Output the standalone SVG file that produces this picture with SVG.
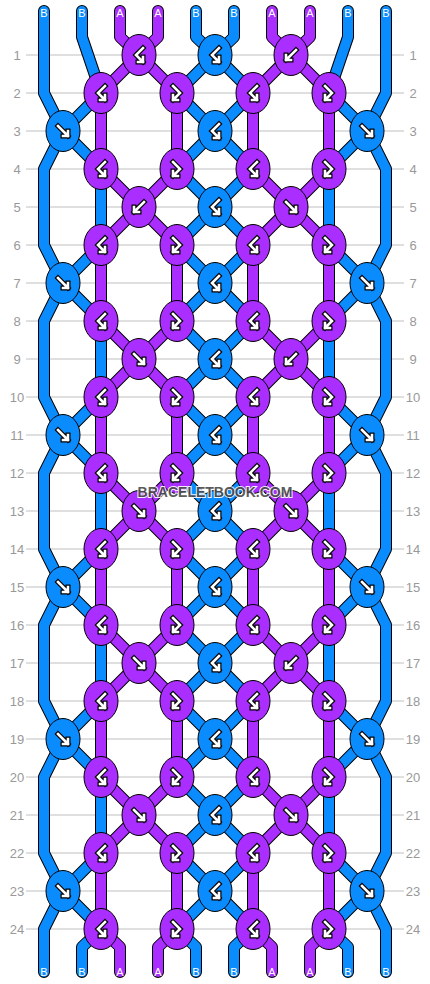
<svg xmlns="http://www.w3.org/2000/svg" xmlns:xlink="http://www.w3.org/1999/xlink" width="430" height="984" viewBox="0 0 430 984">
<style>
.grid line{stroke:#c0c0c0;stroke-width:1}
.rl{font-family:"Liberation Sans",Arial,sans-serif;font-size:13px;fill:#999;text-anchor:middle}
.so{fill:none;stroke:#000;stroke-width:12;stroke-linecap:round;stroke-linejoin:round}
.sb{fill:none;stroke:#0a8cff;stroke-width:10;stroke-linecap:round;stroke-linejoin:round}
.sa{fill:none;stroke:#a92eff;stroke-width:10;stroke-linecap:round;stroke-linejoin:round}
.kb{fill:#0a8cff;stroke:#000;stroke-width:1}
.ka{fill:#a92eff;stroke:#000;stroke-width:1}
.ao{fill:none;stroke:#000;stroke-width:5;stroke-linecap:square;stroke-linejoin:miter}
.ai{fill:none;stroke:#fff;stroke-width:2.6;stroke-linecap:square;stroke-linejoin:miter}
.sl{font-family:"Liberation Sans",Arial,sans-serif;font-size:11px;fill:#fff;text-anchor:middle}
.wm{font-family:"Liberation Sans",Arial,sans-serif;font-weight:bold;font-size:14px;fill:#4a4a4a;stroke:#fff;stroke-width:2;paint-order:stroke;text-anchor:middle;opacity:0.9}
</style>
<defs>
<g id="f"><path class="ao" d="M-5,-5L5,5M0,5H5V0"/><path class="ai" d="M-5,-5L5,5M0,5H5V0"/></g>
<g id="b"><path class="ao" d="M5,-5L-5,5M0,5H-5V0"/><path class="ai" d="M5,-5L-5,5M0,5H-5V0"/></g>
<g id="bf"><path class="ao" d="M4,-7L-3,0L4,7M-1,7H4V2"/><path class="ai" d="M4,-7L-3,0L4,7M-1,7H4V2"/></g>
<g id="fb"><path class="ao" d="M-4,-7L3,0L-4,7M1,7H-4V2"/><path class="ai" d="M-4,-7L3,0L-4,7M1,7H-4V2"/></g>
<ellipse id="ek" cx="0" cy="0" rx="17" ry="20.5"/>
</defs>
<rect width="430" height="984" fill="#fff"/>
<g class="grid">
<line x1="26" y1="55" x2="404" y2="55"/><line x1="26" y1="93" x2="404" y2="93"/><line x1="26" y1="131" x2="404" y2="131"/><line x1="26" y1="169" x2="404" y2="169"/><line x1="26" y1="207" x2="404" y2="207"/><line x1="26" y1="245" x2="404" y2="245"/><line x1="26" y1="283" x2="404" y2="283"/><line x1="26" y1="321" x2="404" y2="321"/><line x1="26" y1="359" x2="404" y2="359"/><line x1="26" y1="397" x2="404" y2="397"/><line x1="26" y1="435" x2="404" y2="435"/><line x1="26" y1="473" x2="404" y2="473"/><line x1="26" y1="511" x2="404" y2="511"/><line x1="26" y1="549" x2="404" y2="549"/><line x1="26" y1="587" x2="404" y2="587"/><line x1="26" y1="625" x2="404" y2="625"/><line x1="26" y1="663" x2="404" y2="663"/><line x1="26" y1="701" x2="404" y2="701"/><line x1="26" y1="739" x2="404" y2="739"/><line x1="26" y1="777" x2="404" y2="777"/><line x1="26" y1="815" x2="404" y2="815"/><line x1="26" y1="853" x2="404" y2="853"/><line x1="26" y1="891" x2="404" y2="891"/><line x1="26" y1="929" x2="404" y2="929"/>
</g>
<g id="row-labels">
<text class="rl" x="17" y="60">1</text><text class="rl" x="413" y="60">1</text>
<text class="rl" x="17" y="98">2</text><text class="rl" x="413" y="98">2</text>
<text class="rl" x="17" y="136">3</text><text class="rl" x="413" y="136">3</text>
<text class="rl" x="17" y="174">4</text><text class="rl" x="413" y="174">4</text>
<text class="rl" x="17" y="212">5</text><text class="rl" x="413" y="212">5</text>
<text class="rl" x="17" y="250">6</text><text class="rl" x="413" y="250">6</text>
<text class="rl" x="17" y="288">7</text><text class="rl" x="413" y="288">7</text>
<text class="rl" x="17" y="326">8</text><text class="rl" x="413" y="326">8</text>
<text class="rl" x="17" y="364">9</text><text class="rl" x="413" y="364">9</text>
<text class="rl" x="17" y="402">10</text><text class="rl" x="413" y="402">10</text>
<text class="rl" x="17" y="440">11</text><text class="rl" x="413" y="440">11</text>
<text class="rl" x="17" y="478">12</text><text class="rl" x="413" y="478">12</text>
<text class="rl" x="17" y="516">13</text><text class="rl" x="413" y="516">13</text>
<text class="rl" x="17" y="554">14</text><text class="rl" x="413" y="554">14</text>
<text class="rl" x="17" y="592">15</text><text class="rl" x="413" y="592">15</text>
<text class="rl" x="17" y="630">16</text><text class="rl" x="413" y="630">16</text>
<text class="rl" x="17" y="668">17</text><text class="rl" x="413" y="668">17</text>
<text class="rl" x="17" y="706">18</text><text class="rl" x="413" y="706">18</text>
<text class="rl" x="17" y="744">19</text><text class="rl" x="413" y="744">19</text>
<text class="rl" x="17" y="782">20</text><text class="rl" x="413" y="782">20</text>
<text class="rl" x="17" y="820">21</text><text class="rl" x="413" y="820">21</text>
<text class="rl" x="17" y="858">22</text><text class="rl" x="413" y="858">22</text>
<text class="rl" x="17" y="896">23</text><text class="rl" x="413" y="896">23</text>
<text class="rl" x="17" y="934">24</text><text class="rl" x="413" y="934">24</text>
</g>
<g id="connectors">
<polyline class="so" points="44,11 44,37 44,93 63,131 44,169 44,245 63,283 44,321 44,397 63,435 44,473 44,549 63,587 44,625 44,701 63,739 44,777 44,853 63,891 44,929 44,972"/>
<polyline class="sb" points="44,11 44,37 44,93 63,131 44,169 44,245 63,283 44,321 44,397 63,435 44,473 44,549 63,587 44,625 44,701 63,739 44,777 44,853 63,891 44,929 44,972"/>
<polyline class="so" points="386,11 386,37 386,93 367,131 386,169 386,245 367,283 386,321 386,397 367,435 386,473 386,549 367,587 386,625 386,701 367,739 386,777 386,853 367,891 386,929 386,972"/>
<polyline class="sb" points="386,11 386,37 386,93 367,131 386,169 386,245 367,283 386,321 386,397 367,435 386,473 386,549 367,587 386,625 386,701 367,739 386,777 386,853 367,891 386,929 386,972"/>
<polyline class="so" points="82,11 82,37 101,93 63,131 101,169 101,245 63,283 101,321 101,397 63,435 101,473 101,549 63,587 101,625 101,701 63,739 101,777 101,853 63,891 101,929 82,947 82,972"/>
<polyline class="sb" points="82,11 82,37 101,93 63,131 101,169 101,245 63,283 101,321 101,397 63,435 101,473 101,549 63,587 101,625 101,701 63,739 101,777 101,853 63,891 101,929 82,947 82,972"/>
<polyline class="so" points="348,11 348,37 329,93 367,131 329,169 329,245 367,283 329,321 329,397 367,435 329,473 329,549 367,587 329,625 329,701 367,739 329,777 329,853 367,891 329,929 348,947 348,972"/>
<polyline class="sb" points="348,11 348,37 329,93 367,131 329,169 329,245 367,283 329,321 329,397 367,435 329,473 329,549 367,587 329,625 329,701 367,739 329,777 329,853 367,891 329,929 348,947 348,972"/>
<polyline class="so" points="120,11 120,37 139,55 101,93 101,169 139,207 101,245 101,321 139,359 101,397 101,473 139,511 101,549 101,625 139,663 101,701 101,777 139,815 101,853 101,929 120,947 120,972"/>
<polyline class="sa" points="120,11 120,37 139,55 101,93 101,169 139,207 101,245 101,321 139,359 101,397 101,473 139,511 101,549 101,625 139,663 101,701 101,777 139,815 101,853 101,929 120,947 120,972"/>
<polyline class="so" points="310,11 310,37 291,55 329,93 329,169 291,207 329,245 329,321 291,359 329,397 329,473 291,511 329,549 329,625 291,663 329,701 329,777 291,815 329,853 329,929 310,947 310,972"/>
<polyline class="sa" points="310,11 310,37 291,55 329,93 329,169 291,207 329,245 329,321 291,359 329,397 329,473 291,511 329,549 329,625 291,663 329,701 329,777 291,815 329,853 329,929 310,947 310,972"/>
<polyline class="so" points="158,11 158,37 139,55 177,93 177,169 139,207 177,245 177,321 139,359 177,397 177,473 139,511 177,549 177,625 139,663 177,701 177,777 139,815 177,853 177,929 158,947 158,972"/>
<polyline class="sa" points="158,11 158,37 139,55 177,93 177,169 139,207 177,245 177,321 139,359 177,397 177,473 139,511 177,549 177,625 139,663 177,701 177,777 139,815 177,853 177,929 158,947 158,972"/>
<polyline class="so" points="272,11 272,37 291,55 253,93 253,169 291,207 253,245 253,321 291,359 253,397 253,473 291,511 253,549 253,625 291,663 253,701 253,777 291,815 253,853 253,929 272,947 272,972"/>
<polyline class="sa" points="272,11 272,37 291,55 253,93 253,169 291,207 253,245 253,321 291,359 253,397 253,473 291,511 253,549 253,625 291,663 253,701 253,777 291,815 253,853 253,929 272,947 272,972"/>
<polyline class="so" points="196,11 196,37 215,55 177,93 215,131 177,169 215,207 177,245 215,283 177,321 215,359 177,397 215,435 177,473 215,511 177,549 215,587 177,625 215,663 177,701 215,739 177,777 215,815 177,853 215,891 177,929 196,947 196,972"/>
<polyline class="sb" points="196,11 196,37 215,55 177,93 215,131 177,169 215,207 177,245 215,283 177,321 215,359 177,397 215,435 177,473 215,511 177,549 215,587 177,625 215,663 177,701 215,739 177,777 215,815 177,853 215,891 177,929 196,947 196,972"/>
<polyline class="so" points="234,11 234,37 215,55 253,93 215,131 253,169 215,207 253,245 215,283 253,321 215,359 253,397 215,435 253,473 215,511 253,549 215,587 253,625 215,663 253,701 215,739 253,777 215,815 253,853 215,891 253,929 234,947 234,972"/>
<polyline class="sb" points="234,11 234,37 215,55 253,93 215,131 253,169 215,207 253,245 215,283 253,321 215,359 253,397 215,435 253,473 215,511 253,549 215,587 253,625 215,663 253,701 215,739 253,777 215,815 253,853 215,891 253,929 234,947 234,972"/>
</g>
<g id="strand-labels">
<text class="sl" x="44" y="17">B</text><text class="sl" x="82" y="17">B</text><text class="sl" x="120" y="17">A</text><text class="sl" x="158" y="17">A</text><text class="sl" x="196" y="17">B</text><text class="sl" x="234" y="17">B</text><text class="sl" x="272" y="17">A</text><text class="sl" x="310" y="17">A</text><text class="sl" x="348" y="17">B</text><text class="sl" x="386" y="17">B</text>
<text class="sl" x="44" y="976">B</text><text class="sl" x="82" y="976">B</text><text class="sl" x="120" y="976">A</text><text class="sl" x="158" y="976">A</text><text class="sl" x="196" y="976">B</text><text class="sl" x="234" y="976">B</text><text class="sl" x="272" y="976">A</text><text class="sl" x="310" y="976">A</text><text class="sl" x="348" y="976">B</text><text class="sl" x="386" y="976">B</text>
</g>
<g id="r1"><g id="k1-139" transform="translate(139,55)"><use href="#ek" class="ka"/><use href="#bf"/></g><g id="k1-215" transform="translate(215,55)"><use href="#ek" class="kb"/><use href="#bf"/></g><g id="k1-291" transform="translate(291,55)"><use href="#ek" class="ka"/><use href="#b"/></g></g>
<g id="r2"><g id="k2-101" transform="translate(101,93)"><use href="#ek" class="ka"/><use href="#bf"/></g><g id="k2-177" transform="translate(177,93)"><use href="#ek" class="ka"/><use href="#fb"/></g><g id="k2-253" transform="translate(253,93)"><use href="#ek" class="ka"/><use href="#bf"/></g><g id="k2-329" transform="translate(329,93)"><use href="#ek" class="ka"/><use href="#fb"/></g></g>
<g id="r3"><g id="k3-63" transform="translate(63,131)"><use href="#ek" class="kb"/><use href="#f"/></g><g id="k3-215" transform="translate(215,131)"><use href="#ek" class="kb"/><use href="#bf"/></g><g id="k3-367" transform="translate(367,131)"><use href="#ek" class="kb"/><use href="#f"/></g></g>
<g id="r4"><g id="k4-101" transform="translate(101,169)"><use href="#ek" class="ka"/><use href="#bf"/></g><g id="k4-177" transform="translate(177,169)"><use href="#ek" class="ka"/><use href="#fb"/></g><g id="k4-253" transform="translate(253,169)"><use href="#ek" class="ka"/><use href="#bf"/></g><g id="k4-329" transform="translate(329,169)"><use href="#ek" class="ka"/><use href="#fb"/></g></g>
<g id="r5"><g id="k5-139" transform="translate(139,207)"><use href="#ek" class="ka"/><use href="#b"/></g><g id="k5-215" transform="translate(215,207)"><use href="#ek" class="kb"/><use href="#bf"/></g><g id="k5-291" transform="translate(291,207)"><use href="#ek" class="ka"/><use href="#f"/></g></g>
<g id="r6"><g id="k6-101" transform="translate(101,245)"><use href="#ek" class="ka"/><use href="#bf"/></g><g id="k6-177" transform="translate(177,245)"><use href="#ek" class="ka"/><use href="#fb"/></g><g id="k6-253" transform="translate(253,245)"><use href="#ek" class="ka"/><use href="#bf"/></g><g id="k6-329" transform="translate(329,245)"><use href="#ek" class="ka"/><use href="#fb"/></g></g>
<g id="r7"><g id="k7-63" transform="translate(63,283)"><use href="#ek" class="kb"/><use href="#f"/></g><g id="k7-215" transform="translate(215,283)"><use href="#ek" class="kb"/><use href="#bf"/></g><g id="k7-367" transform="translate(367,283)"><use href="#ek" class="kb"/><use href="#f"/></g></g>
<g id="r8"><g id="k8-101" transform="translate(101,321)"><use href="#ek" class="ka"/><use href="#bf"/></g><g id="k8-177" transform="translate(177,321)"><use href="#ek" class="ka"/><use href="#fb"/></g><g id="k8-253" transform="translate(253,321)"><use href="#ek" class="ka"/><use href="#bf"/></g><g id="k8-329" transform="translate(329,321)"><use href="#ek" class="ka"/><use href="#fb"/></g></g>
<g id="r9"><g id="k9-139" transform="translate(139,359)"><use href="#ek" class="ka"/><use href="#f"/></g><g id="k9-215" transform="translate(215,359)"><use href="#ek" class="kb"/><use href="#bf"/></g><g id="k9-291" transform="translate(291,359)"><use href="#ek" class="ka"/><use href="#b"/></g></g>
<g id="r10"><g id="k10-101" transform="translate(101,397)"><use href="#ek" class="ka"/><use href="#bf"/></g><g id="k10-177" transform="translate(177,397)"><use href="#ek" class="ka"/><use href="#fb"/></g><g id="k10-253" transform="translate(253,397)"><use href="#ek" class="ka"/><use href="#bf"/></g><g id="k10-329" transform="translate(329,397)"><use href="#ek" class="ka"/><use href="#fb"/></g></g>
<g id="r11"><g id="k11-63" transform="translate(63,435)"><use href="#ek" class="kb"/><use href="#f"/></g><g id="k11-215" transform="translate(215,435)"><use href="#ek" class="kb"/><use href="#bf"/></g><g id="k11-367" transform="translate(367,435)"><use href="#ek" class="kb"/><use href="#f"/></g></g>
<g id="r12"><g id="k12-101" transform="translate(101,473)"><use href="#ek" class="ka"/><use href="#bf"/></g><g id="k12-177" transform="translate(177,473)"><use href="#ek" class="ka"/><use href="#fb"/></g><g id="k12-253" transform="translate(253,473)"><use href="#ek" class="ka"/><use href="#bf"/></g><g id="k12-329" transform="translate(329,473)"><use href="#ek" class="ka"/><use href="#fb"/></g></g>
<g id="r13"><g id="k13-139" transform="translate(139,511)"><use href="#ek" class="ka"/><use href="#f"/></g><g id="k13-215" transform="translate(215,511)"><use href="#ek" class="kb"/><use href="#bf"/></g><g id="k13-291" transform="translate(291,511)"><use href="#ek" class="ka"/><use href="#f"/></g></g>
<g id="r14"><g id="k14-101" transform="translate(101,549)"><use href="#ek" class="ka"/><use href="#bf"/></g><g id="k14-177" transform="translate(177,549)"><use href="#ek" class="ka"/><use href="#fb"/></g><g id="k14-253" transform="translate(253,549)"><use href="#ek" class="ka"/><use href="#bf"/></g><g id="k14-329" transform="translate(329,549)"><use href="#ek" class="ka"/><use href="#fb"/></g></g>
<g id="r15"><g id="k15-63" transform="translate(63,587)"><use href="#ek" class="kb"/><use href="#f"/></g><g id="k15-215" transform="translate(215,587)"><use href="#ek" class="kb"/><use href="#bf"/></g><g id="k15-367" transform="translate(367,587)"><use href="#ek" class="kb"/><use href="#f"/></g></g>
<g id="r16"><g id="k16-101" transform="translate(101,625)"><use href="#ek" class="ka"/><use href="#bf"/></g><g id="k16-177" transform="translate(177,625)"><use href="#ek" class="ka"/><use href="#fb"/></g><g id="k16-253" transform="translate(253,625)"><use href="#ek" class="ka"/><use href="#bf"/></g><g id="k16-329" transform="translate(329,625)"><use href="#ek" class="ka"/><use href="#fb"/></g></g>
<g id="r17"><g id="k17-139" transform="translate(139,663)"><use href="#ek" class="ka"/><use href="#f"/></g><g id="k17-215" transform="translate(215,663)"><use href="#ek" class="kb"/><use href="#bf"/></g><g id="k17-291" transform="translate(291,663)"><use href="#ek" class="ka"/><use href="#b"/></g></g>
<g id="r18"><g id="k18-101" transform="translate(101,701)"><use href="#ek" class="ka"/><use href="#bf"/></g><g id="k18-177" transform="translate(177,701)"><use href="#ek" class="ka"/><use href="#fb"/></g><g id="k18-253" transform="translate(253,701)"><use href="#ek" class="ka"/><use href="#bf"/></g><g id="k18-329" transform="translate(329,701)"><use href="#ek" class="ka"/><use href="#fb"/></g></g>
<g id="r19"><g id="k19-63" transform="translate(63,739)"><use href="#ek" class="kb"/><use href="#f"/></g><g id="k19-215" transform="translate(215,739)"><use href="#ek" class="kb"/><use href="#bf"/></g><g id="k19-367" transform="translate(367,739)"><use href="#ek" class="kb"/><use href="#f"/></g></g>
<g id="r20"><g id="k20-101" transform="translate(101,777)"><use href="#ek" class="ka"/><use href="#bf"/></g><g id="k20-177" transform="translate(177,777)"><use href="#ek" class="ka"/><use href="#fb"/></g><g id="k20-253" transform="translate(253,777)"><use href="#ek" class="ka"/><use href="#bf"/></g><g id="k20-329" transform="translate(329,777)"><use href="#ek" class="ka"/><use href="#fb"/></g></g>
<g id="r21"><g id="k21-139" transform="translate(139,815)"><use href="#ek" class="ka"/><use href="#f"/></g><g id="k21-215" transform="translate(215,815)"><use href="#ek" class="kb"/><use href="#bf"/></g><g id="k21-291" transform="translate(291,815)"><use href="#ek" class="ka"/><use href="#f"/></g></g>
<g id="r22"><g id="k22-101" transform="translate(101,853)"><use href="#ek" class="ka"/><use href="#bf"/></g><g id="k22-177" transform="translate(177,853)"><use href="#ek" class="ka"/><use href="#fb"/></g><g id="k22-253" transform="translate(253,853)"><use href="#ek" class="ka"/><use href="#bf"/></g><g id="k22-329" transform="translate(329,853)"><use href="#ek" class="ka"/><use href="#fb"/></g></g>
<g id="r23"><g id="k23-63" transform="translate(63,891)"><use href="#ek" class="kb"/><use href="#f"/></g><g id="k23-215" transform="translate(215,891)"><use href="#ek" class="kb"/><use href="#bf"/></g><g id="k23-367" transform="translate(367,891)"><use href="#ek" class="kb"/><use href="#f"/></g></g>
<g id="r24"><g id="k24-101" transform="translate(101,929)"><use href="#ek" class="ka"/><use href="#bf"/></g><g id="k24-177" transform="translate(177,929)"><use href="#ek" class="ka"/><use href="#fb"/></g><g id="k24-253" transform="translate(253,929)"><use href="#ek" class="ka"/><use href="#bf"/></g><g id="k24-329" transform="translate(329,929)"><use href="#ek" class="ka"/><use href="#fb"/></g></g>
<text class="wm" x="215" y="497">BRACELETBOOK.COM</text>
</svg>
